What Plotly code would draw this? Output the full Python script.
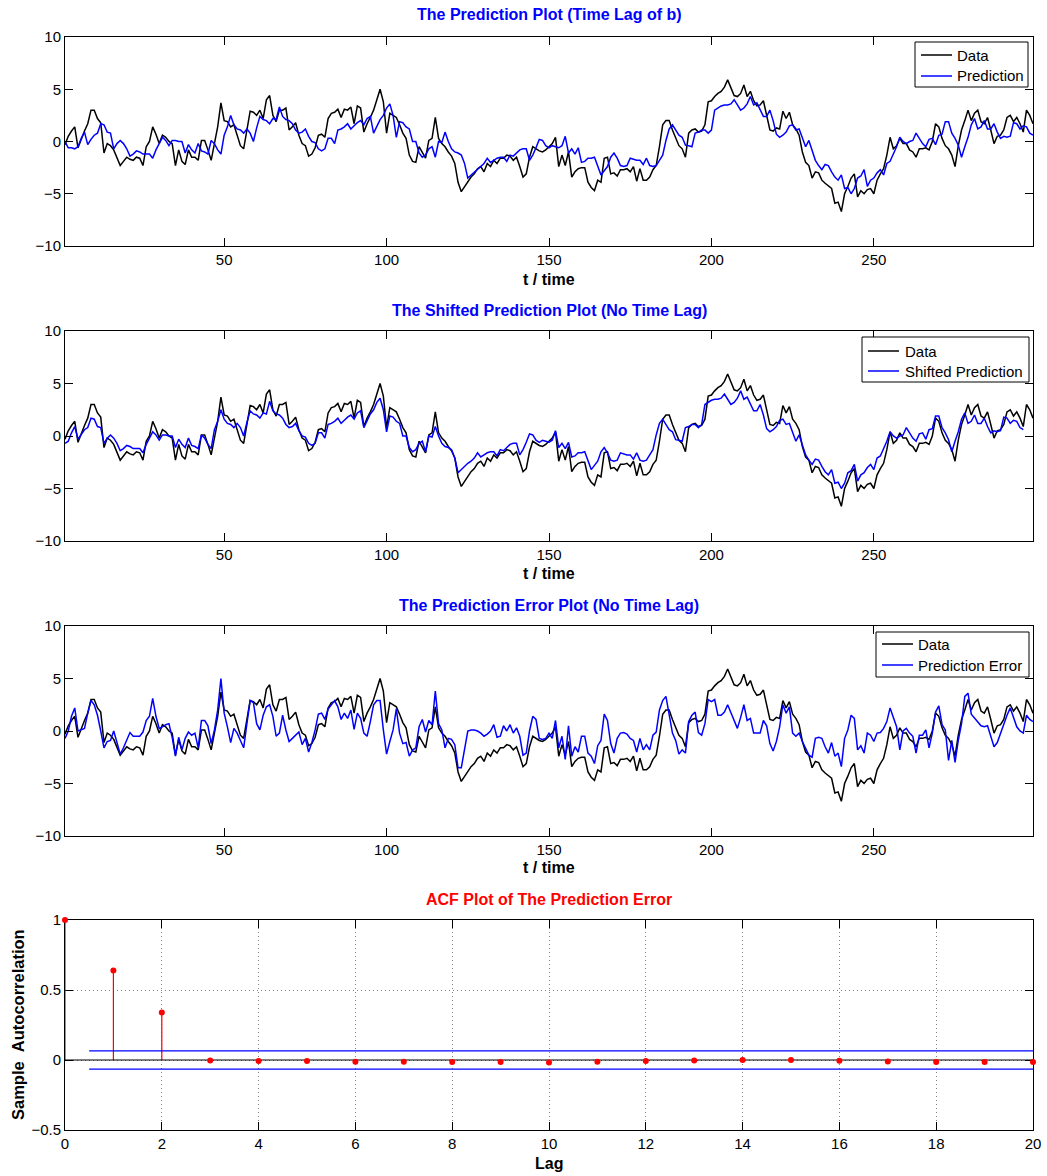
import plotly.graph_objects as go

W, H = 1047, 1176

# Observed series, t = 1..299
data = [
    -0.3, 0.5, 1.0, 1.4, -0.6, 0.3, 1.0, 1.7, 3.0, 3.0,
    2.2, 1.8, -1.1, -0.2, -0.4, -0.8, -1.5, -2.3, -1.9, -1.5,
    -1.7, -1.8, -1.5, -1.6, -2.3, -0.5, 0.0, 1.4, 0.7, -0.2,
    0.6, 0.4, 0.0, -0.2, -2.3, -0.8, -1.9, -2.2, -0.8, -1.5,
    -1.5, -1.8, 0.1, 0.1, -0.8, -1.8, -0.2, 1.4, 3.7, 2.0,
    1.9, 1.4, 1.6, 0.6, -0.4, -0.7, 1.1, 2.9, 2.8, 2.5,
    3.0, 2.2, 4.0, 4.4, 2.5, 1.9, 3.0, 3.0, 3.2, 1.1,
    1.4, 1.8, 0.6, -0.2, -0.4, -1.4, -1.2, -0.6, 0.6, 0.7,
    0.4, 2.2, 2.7, 2.8, 3.1, 2.3, 3.1, 3.0, 3.3, 1.7,
    3.4, 3.2, 0.9, 1.7, 2.3, 3.0, 4.0, 5.0, 3.8, 0.8,
    2.7, 2.5, 2.3, 1.6, 0.8, 0.3, -1.3, -1.9, -2.0, -0.5,
    -1.0, -1.6, 0.1, 0.3, 2.3, 0.3, -0.2, -0.5, -1.0, -1.4,
    -2.1, -3.9, -4.8, -4.3, -3.9, -3.4, -3.1, -2.6, -2.4, -2.9,
    -2.1, -2.4, -1.8, -2.1, -1.6, -1.6, -1.3, -1.4, -1.8, -1.5,
    -2.4, -3.4, -3.1, -1.5, -0.5, -0.7, -0.9, -1.0, -0.8, -0.5,
    -0.2, 0.4, -2.4, -1.3, -2.3, -1.0, -3.4, -2.9, -2.6, -2.5,
    -2.5, -3.9, -4.4, -4.7, -3.7, -3.9, -1.6, -1.5, -3.1, -3.0,
    -3.3, -2.7, -2.7, -2.6, -2.9, -2.4, -3.8, -2.6, -3.7, -3.7,
    -3.4, -2.7, -2.3, -0.5, 1.6, 2.0, 2.0, 1.1, 0.3, -0.4,
    -0.7, -1.5, 0.8, 1.1, 1.2, 0.9, 1.0, 1.6, 3.8, 3.9,
    4.3, 4.6, 4.8, 5.2, 5.9, 5.1, 4.4, 4.3, 4.6, 5.4,
    4.3, 4.8, 3.9, 3.4, 3.5, 3.9, 2.4, 1.1, 1.0, 1.3,
    1.2, 2.9, 2.2, 2.8, 1.6, 1.2, 0.6, -1.0, -2.0, -2.3,
    -3.5, -2.9, -3.0, -3.7, -4.0, -4.3, -4.5, -5.9, -5.8, -6.7,
    -5.0, -4.3, -3.5, -3.1, -5.3, -4.7, -5.0, -4.6, -4.5, -5.0,
    -3.7, -3.1, -2.6, -1.3, 0.4, -0.7, -0.4, 0.3, -0.2, -0.2,
    -0.8, -1.0, -1.5, -0.7, -0.7, -0.6, -0.8, 0.0, 1.7, 1.4,
    0.3, -0.4, -0.7, -1.3, -2.4, -0.4, 1.1, 2.0, 3.0, 2.0,
    2.7, 3.0, 1.9, 1.7, 2.3, 1.1, -0.2, 0.5, 0.6, 1.1,
    2.3, 2.5, 1.9, 2.3, 1.7, 0.9, 3.0, 2.5, 1.7,
]

# One-step model prediction, t = 1..299
prediction = [
    0.0, -0.6, -0.6, -0.7, -0.5, 0.3, 0.9, -0.3, 0.2, 0.6,
    0.8, 1.7, 1.6, 0.9, 0.8, -0.7, -0.2, 0.1, -0.2, -0.7,
    -1.4, -1.2, -0.9, -1.0, -1.2, -1.2, -1.2, -1.6, -0.8, -0.2,
    0.4, 0.1, -0.4, 0.1, 0.1, 0.0, 0.0, -1.1, -0.3, -0.8,
    -1.1, -0.2, -0.9, -1.0, -1.2, 0.1, -0.2, -0.8, -1.2, 0.6,
    1.4, 2.5, 1.6, 1.2, 1.1, 0.8, 1.2, 0.8, 0.0, 1.3,
    2.4, 2.1, 2.0, 1.7, 2.2, 2.1, 3.3, 2.4, 2.1, 2.0,
    1.7, 1.1, 0.8, 0.9, 1.2, 0.5, 0.0, -0.1, -0.7, -0.9,
    -0.7, 0.3, 0.3, -0.2, 1.1, 1.2, 1.4, 1.7, 1.2, 1.5,
    1.8, 2.0, 1.6, 2.2, 2.4, 0.8, 1.4, 2.1, 2.5, 3.2,
    3.6, 2.5, 0.4, 1.9, 1.8, 1.4, 1.2, 0.0, 0.0, -1.1,
    -1.5, -1.3, -0.7, -0.5, -1.5, 0.0, -0.1, 0.9, 0.0, -0.7,
    -1.0, -1.1, -1.3, -2.1, -3.5, -3.2, -2.9, -2.6, -2.4, -2.1,
    -1.6, -2.0, -1.8, -1.6, -1.5, -1.5, -1.9, -1.3, -1.4, -1.1,
    -0.8, -0.7, -0.7, -1.8, -1.3, -0.6, 0.2, 0.1, -0.4, -0.6,
    -0.4, -0.5, -0.6, -0.4, 0.5, -1.1, -0.7, -1.2, -0.6, -2.0,
    -1.9, -1.6, -1.6, -1.5, -2.4, -3.2, -2.8, -2.4, -1.5, -1.1,
    -1.6, -2.3, -2.4, -2.3, -1.6, -1.7, -1.8, -1.8, -2.2, -1.6,
    -2.3, -2.4, -2.3, -1.8, -1.3, 0.1, 1.2, 1.6, 1.1, 0.6,
    0.4, -0.35, -0.4, -0.5, 0.8, 0.9, 1.1, 1.1, 0.8, 1.1,
    3.0, 3.2, 3.4, 3.5, 3.5, 3.6, 4.0, 3.5, 3.0, 3.2,
    3.6, 4.3, 3.5, 3.7, 3.0, 2.4, 2.4, 3.0, 2.0, 0.7,
    0.4, 0.6, 0.9, 1.5, 1.6, 1.1, 1.2, 0.4, -0.5, 0.1,
    -0.9, -1.8, -2.3, -2.7, -2.2, -2.3, -2.9, -3.4, -3.7, -3.2,
    -4.5, -4.4, -5.0, -4.5, -3.5, -3.3, -2.7, -4.3, -3.7, -3.5,
    -3.0, -2.7, -3.2, -2.1, -1.9, -1.2, -0.5, 0.4, 0.0, -0.2,
    0.0, 0.1, 0.8, 0.3, -0.2, -0.5, 0.2, 0.3, -0.3, 0.6,
    0.7, 1.9, 1.9, 0.8, 0.3, -0.35, -1.5, -0.5, 0.4, 1.6,
    2.2, 1.2, 1.4, 2.0, 1.2, 1.2, 1.7, 0.9, 0.3, 0.5,
    0.4, 0.5, 1.8, 1.7, 1.2, 1.5, 1.4, 0.8, 0.6,
]

# Prediction error, t = 1..299
pred_error = [
    -0.7, 0.0, 1.4, 2.2, 0.0, 0.1, 0.25, 1.7, 2.9, 2.5,
    1.5, 0.0, -1.6, -1.0, -0.9, 0.0, -1.0, -2.2, -1.6, -0.9,
    -0.15, -0.5, -0.5, -0.5, -0.1, 1.0, 1.4, 3.1, 1.4, 0.25,
    0.4, 0.6, 0.7, -0.6, -2.4, -0.6, -1.8, -0.7, -0.1, -0.4,
    -0.2, -1.6, 1.0, 1.0, 0.5, -1.2, 0.1, 2.0, 5.0, 1.7,
    0.4, -1.1, 0.25, -0.2, -0.9, -1.6, 0.7, 2.9, 2.7, 0.7,
    0.1, 1.5, 2.3, 2.5, 1.4, -0.5, -0.2, 1.5, 0.1, -1.0,
    -0.7, -0.4, -0.1, -1.3, -0.7, -2.0, -1.1, 0.1, 1.6, 1.7,
    1.1, 2.1, 2.5, 2.9, 2.3, 1.1, 1.7, 1.2, 2.0, 0.15,
    1.7, 1.2, -0.2, -0.5, 0.9, 2.5, 2.9, 2.9, 0.1, -2.2,
    -1.0, 0.1, 2.1, -0.2, -1.2, -1.1, -2.4, -1.8, -1.6, 0.4,
    1.1, -0.1, 1.0, 0.6, 3.8, 0.7, 0.1, -1.6, -0.7, -0.8,
    -1.3, -3.5, -3.5, -1.8, 0.0, 0.1, 0.1, 0.0, -0.2, -0.5,
    -0.3, 0.0, 0.6, -0.6, -0.5, 0.5, 0.0, 0.6, -0.2, 0.3,
    -0.5, -2.3, -2.1, 0.0, 1.4, 1.1, -0.7, -0.8, -0.7, -0.2,
    -0.7, 1.0, -1.6, -0.5, -2.7, 0.5, -2.4, -1.5, -2.0, -0.5,
    -0.5, -2.1, -2.4, -3.1, -1.4, -0.9, 1.6, 1.0, -1.2, -2.1,
    -0.7, -0.2, -0.15, -0.3, -0.7, -0.9, -2.0, -0.7, -1.8, -1.3,
    -1.8, -0.4, -0.1, 2.0, 2.9, 3.3, 1.7, -0.2, -0.9, -2.2,
    -1.8, -2.1, 0.9, 1.5, 1.8, -0.15, -0.4, 0.7, 3.0, 2.8,
    3.0, 1.5, 1.5, 1.8, 2.5, 1.7, 1.0, 0.25, 1.3, 2.5,
    1.0, 1.2, -0.2, -0.2, -0.2, 1.0, 0.5, -1.2, -1.9, -1.0,
    0.4, 2.5, 1.7, 2.3, -0.2, -0.5, -0.2, -1.0, -1.6, -2.3,
    -2.5, -0.7, -0.6, -0.7, -1.5, -2.1, -1.1, -2.4, -2.1, -3.4,
    -0.7, 0.1, 1.5, 1.2, -1.8, -1.4, -2.1, -0.2, -0.4, -1.0,
    -0.2, -0.15, 0.25, 0.9, 2.2, 1.2, 0.4, -1.8, 0.0, 0.25,
    -0.2, -0.5, -2.1, -0.4, -0.4, 0.1, -1.6, -0.2, 1.8, 2.4,
    0.6, 0.1, -2.8, -0.9, -3.0, -0.9, 0.7, 3.3, 3.6, 1.6,
    1.2, 0.9, 0.5, 0.4, 0.5, -0.5, -1.5, -1.1, -0.2, 0.7,
    1.5, 2.2, 1.3, 0.4, 0.0, -0.2, 1.5, 1.1, 0.9,
]

t = list(range(1, len(data) + 1))
lag_b = 3  # delay between prediction and data

# Sample autocorrelation of the prediction error
lags = list(range(0, 21))
acf = [1.0, 0.64, 0.34, -0.003, -0.008, -0.008, -0.012, -0.012, -0.015, -0.015,
       -0.017, -0.013, -0.008, -0.004, 0.0, 0.0, -0.005, -0.01, -0.015, -0.015, -0.015]
conf_bound = 0.065

FONT = "Liberation Sans, Arial, Helvetica, sans-serif"
BLUE = "#0000ff"
RED = "#ff0000"
LW = 1.5


def px(x):
    return x / W


def py(y):
    return 1 - y / H


fig = go.Figure()


def line_trace(x, y, color, ax):
    return go.Scatter(x=x, y=y, mode="lines", line=dict(color=color, width=LW),
                      xaxis="x" + ax, yaxis="y" + ax, showlegend=False)


# Panel 1: data vs lagged prediction
fig.add_trace(line_trace(t, data, "black", ""))
fig.add_trace(line_trace(t, prediction, BLUE, ""))
# Panel 2: data vs prediction shifted back by the lag
fig.add_trace(line_trace(t, data, "black", "2"))
fig.add_trace(line_trace(t[:len(t) - lag_b], prediction[lag_b:], BLUE, "2"))
# Panel 3: data vs prediction error
fig.add_trace(line_trace(t, data, "black", "3"))
fig.add_trace(line_trace(t, pred_error, BLUE, "3"))

# Panel 4: ACF stem plot
stem_x, stem_y = [], []
for k, v in zip(lags, acf):
    stem_x += [k, k, None]
    stem_y += [0, v, None]
fig.add_trace(go.Scatter(x=stem_x, y=stem_y, mode="lines",
                         line=dict(color=RED, width=1.2), cliponaxis=False,
                         xaxis="x4", yaxis="y4", showlegend=False, hoverinfo="skip"))
fig.add_trace(go.Scatter(x=[lags[0], lags[-1]], y=[0, 0], mode="lines",
                         line=dict(color="black", width=1.2),
                         xaxis="x4", yaxis="y4", showlegend=False))
for s in (1, -1):
    fig.add_trace(go.Scatter(x=[0.5, lags[-1]], y=[s * conf_bound, s * conf_bound],
                             mode="lines", line=dict(color=BLUE, width=1.2),
                             xaxis="x4", yaxis="y4", showlegend=False))
fig.add_trace(go.Scatter(x=lags, y=acf, mode="markers", cliponaxis=False,
                         marker=dict(color=RED, size=6),
                         xaxis="x4", yaxis="y4", showlegend=False))

xdom = [px(65), px(1033)]
panels_px = [(37, 246), (331, 541), (626, 836), (920, 1130)]

axis_common = dict(showline=True, linecolor="black", linewidth=1, mirror="allticks",
                   ticks="inside", ticklen=8, tickcolor="black", zeroline=False,
                   tickfont=dict(family=FONT, size=15, color="black"))

layout = dict(
    width=W, height=H,
    margin=dict(l=0, r=0, t=0, b=0, autoexpand=False),
    paper_bgcolor="white", plot_bgcolor="white",
    font=dict(family=FONT, size=15, color="black"),
    showlegend=False,
)

for i, (top, bot) in enumerate(panels_px[:3]):
    sfx = "" if i == 0 else str(i + 1)
    layout["xaxis" + sfx] = dict(axis_common, domain=xdom, range=[1, 299],
                                 tickvals=[50, 100, 150, 200, 250], showgrid=False,
                                 anchor="y" + sfx)
    layout["yaxis" + sfx] = dict(axis_common, domain=[py(bot), py(top)], range=[-10, 10],
                                 tickvals=[-10, -5, 0, 5, 10], showgrid=False,
                                 anchor="x" + sfx)

top, bot = panels_px[3]
grid = dict(showgrid=True, gridcolor="#7f7f7f", griddash="1px,3px", gridwidth=1)
layout["xaxis4"] = dict(axis_common, **grid, domain=xdom, range=[0, 20],
                        tickvals=list(range(0, 21, 2)), anchor="y4", layer="below traces")
layout["yaxis4"] = dict(axis_common, **grid, domain=[py(bot), py(top)], range=[-0.5, 1],
                        tickvals=[-0.5, 0, 0.5, 1], ticktext=["\u22120.5", "0", "0.5", "1"],
                        anchor="x4", layer="below traces")

fig.update_layout(**layout)

# Legend boxes: (left, right, top, bottom, line x0, line x1, text x, row y's, labels)
legends = [
    (915, 1028, 42, 87, 921, 952, 955, (55, 76), ("Data", "Prediction")),
    (862, 1029, 337, 382, 868, 899, 903, (351, 371), ("Data", "Shifted Prediction")),
    (876, 1029, 632, 677, 882, 913, 916, (644, 665), ("Data", "Prediction Error")),
]
for l, r, tp, bt, lx0, lx1, tx, rows, labels in legends:
    fig.add_shape(type="rect", xref="paper", yref="paper", x0=px(l), x1=px(r),
                  y0=py(bt), y1=py(tp), line=dict(color="black", width=1),
                  fillcolor="white", layer="above")
    for ry, lab, col in zip(rows, labels, ("black", BLUE)):
        fig.add_shape(type="line", xref="paper", yref="paper", x0=px(lx0), x1=px(lx1),
                      y0=py(ry), y1=py(ry), line=dict(color=col, width=LW), layer="above")
        fig.add_annotation(text=lab, x=px(tx), y=py(ry), xref="paper", yref="paper",
                           showarrow=False, xanchor="left", yanchor="middle",
                           font=dict(family=FONT, size=15, color="black"))

# Titles and axis labels
titles = [
    ("The Prediction Plot (Time Lag of b)", 15, BLUE),
    ("The Shifted Prediction Plot (No Time Lag)", 310, BLUE),
    ("The Prediction Error Plot (No Time Lag)", 605, BLUE),
    ("ACF Plot of The Prediction Error", 899, RED),
]
for text, ycen, col in titles:
    fig.add_annotation(text="<b>%s</b>" % text, x=px(549), y=py(ycen), xref="paper", yref="paper",
                       showarrow=False, xanchor="center", yanchor="middle",
                       font=dict(family=FONT, size=16, color=col))

for ycen in (279, 573, 867):
    fig.add_annotation(text="<b>t / time</b>", x=px(549), y=py(ycen), xref="paper", yref="paper",
                       showarrow=False, xanchor="center", yanchor="middle",
                       font=dict(family=FONT, size=16, color="black"))

fig.add_annotation(text="<b>Lag</b>", x=px(549), y=py(1163), xref="paper", yref="paper",
                   showarrow=False, xanchor="center", yanchor="middle",
                   font=dict(family=FONT, size=16, color="black"))
fig.add_annotation(text="<b>Sample\u00a0\u00a0Autocorrelation</b>", x=px(18), y=py(1025),
                   xref="paper", yref="paper", showarrow=False, xanchor="center",
                   yanchor="middle", textangle=-90,
                   font=dict(family=FONT, size=16.5, color="black"))

fig.write_html("out.html")
